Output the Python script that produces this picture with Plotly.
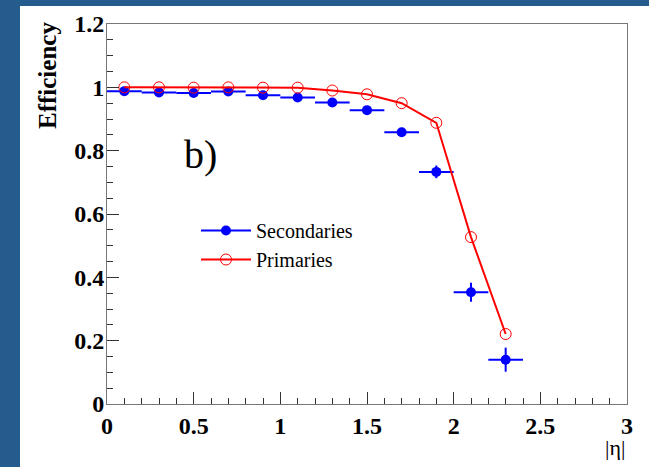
import plotly.graph_objects as go

# |eta| bin centres and half-widths
eta = [0.1, 0.3, 0.5, 0.7, 0.9, 1.1, 1.3, 1.5, 1.7, 1.9, 2.1, 2.3]
eta_halfwidth = [0.1] * 12

# Reconstruction efficiency for secondary and primary tracks
secondaries = [0.988, 0.984, 0.982, 0.987, 0.975, 0.968, 0.952, 0.928, 0.858, 0.733, 0.353, 0.140]
secondaries_err = [0.004, 0.004, 0.004, 0.004, 0.005, 0.006, 0.007, 0.008, 0.012, 0.020, 0.030, 0.038]
primaries = [1.000, 1.000, 0.999, 1.000, 0.999, 0.999, 0.990, 0.978, 0.950, 0.888, 0.527, 0.221]

x_ticks = [0, 0.5, 1, 1.5, 2, 2.5, 3]
y_ticks = [0, 0.2, 0.4, 0.6, 0.8, 1, 1.2]

BLUE = "#0000ff"
RED = "#ff0000"
SERIF = "Liberation Serif"

# Plot-area geometry in pixels
W, H = 649, 467
L, R, T, B = 107, 627, 24, 404
pw, ph = R - L, B - T


def px(x):
    return (x - L) / pw


def py(y):
    return (B - y) / ph


fig = go.Figure()

fig.add_trace(go.Scatter(
    x=eta, y=secondaries, mode="markers",
    marker=dict(color=BLUE, size=10, symbol="circle"),
    error_x=dict(type="data", array=eta_halfwidth, color=BLUE, thickness=2, width=0),
    error_y=dict(type="data", array=secondaries_err, color=BLUE, thickness=2, width=0),
    showlegend=False, cliponaxis=False,
))

fig.add_trace(go.Scatter(
    x=eta, y=primaries, mode="lines+markers",
    line=dict(color=RED, width=2),
    marker=dict(color=RED, size=11, symbol="circle-open", line=dict(width=1)),
    showlegend=False, cliponaxis=False,
))

# Legend entries
fig.add_trace(go.Scatter(
    x=[None], y=[None], mode="lines+markers", name="Secondaries",
    line=dict(color=BLUE, width=2), marker=dict(color=BLUE, size=10),
    legendgroup="a",
))
fig.add_trace(go.Scatter(
    x=[None], y=[None], mode="lines+markers", name="Primaries",
    line=dict(color=RED, width=2),
    marker=dict(color=RED, size=11, symbol="circle-open", line=dict(width=1)),
    legendgroup="b",
))

tick_font = dict(family=SERIF, size=24, color="black", weight="bold")

fig.update_xaxes(
    range=[0, 3], tickvals=x_ticks, ticktext=[f"{v:g}" for v in x_ticks],
    ticks="inside", ticklen=12, tickcolor="#333", tickwidth=1,
    minor=dict(dtick=0.1, ticks="inside", ticklen=6, tickcolor="#333", showgrid=False),
    showline=True, mirror=True, linecolor="#777", linewidth=1,
    showgrid=False, zeroline=False, tickfont=tick_font,
)
fig.update_yaxes(
    range=[0, 1.2], tickvals=y_ticks, ticktext=[f"{v:g}" for v in y_ticks],
    ticks="inside", ticklen=12, tickcolor="#333", tickwidth=1,
    minor=dict(dtick=0.05, ticks="inside", ticklen=6, tickcolor="#333", showgrid=False),
    showline=True, mirror=True, linecolor="#777", linewidth=1,
    showgrid=False, zeroline=False, tickfont=tick_font, ticklabelstandoff=-3,
)

# White canvas over the blue frame
fig.add_shape(
    type="rect", xref="paper", yref="paper",
    x0=px(20), x1=px(W + 5), y0=py(H + 5), y1=py(6),
    fillcolor="white", line=dict(width=0), layer="below",
)

fig.add_annotation(
    text="<b>Efficiency</b>", textangle=-90, xref="paper", yref="paper",
    x=px(47), y=py(76), xanchor="center", yanchor="middle", showarrow=False,
    font=dict(family=SERIF, size=25, color="black"),
)
fig.add_annotation(
    text="|η|", xref="paper", yref="paper",
    x=px(615), y=py(448), xanchor="center", yanchor="middle", showarrow=False,
    font=dict(family=SERIF, size=22, color="black"),
)
fig.add_annotation(
    text="b)", xref="paper", yref="paper",
    x=px(200), y=py(155), xanchor="center", yanchor="middle", showarrow=False,
    font=dict(family=SERIF, size=40, color="black"),
)

fig.update_layout(
    width=W, height=H,
    margin=dict(l=L, r=W - R, t=T, b=H - B),
    paper_bgcolor="#255c8e", plot_bgcolor="white",
    legend=dict(
        x=px(196), y=py(211), xanchor="left", yanchor="top",
        bgcolor="rgba(0,0,0,0)", font=dict(family=SERIF, size=20, color="black"),
        traceorder="grouped", tracegroupgap=0, itemwidth=50,
    ),
)

fig.write_html("out.html")
